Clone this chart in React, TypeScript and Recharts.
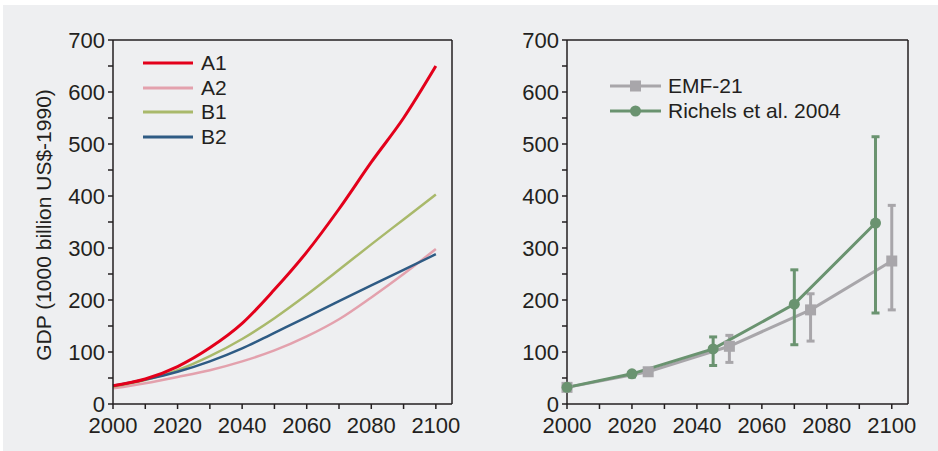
import React from 'react';
import { LineChart, Line, XAxis, YAxis, ReferenceLine, Legend, ErrorBar, Label } from 'recharts';

// SRES scenarios, left panel
const years = [2000, 2010, 2020, 2030, 2040, 2050, 2060, 2070, 2080, 2090, 2100];
const a1 = [35, 48, 72, 108, 155, 220, 292, 375, 465, 550, 650];
const a2 = [30, 40, 52, 65, 82, 103, 130, 163, 205, 250, 298];
const b1 = [33, 46, 65, 92, 125, 165, 210, 258, 307, 355, 403];
const b2 = [35, 47, 62, 82, 107, 137, 167, 198, 228, 258, 288];

// right panel
const emfYears = [2000, 2025, 2050, 2075, 2100];
const emfGdp = [32, 62, 111, 181, 275];
const emfLow = [32, 55, 80, 121, 181];
const emfHigh = [32, 68, 132, 212, 382];

const richelsYears = [2000, 2020, 2045, 2070, 2095];
const richelsGdp = [32, 58, 106, 192, 348];
const richelsLow = [32, 52, 74, 114, 175];
const richelsHigh = [32, 62, 129, 258, 514];

const xTicks = [2000, 2010, 2020, 2030, 2040, 2050, 2060, 2070, 2080, 2090, 2100];
const yTicks = [0, 50, 100, 150, 200, 250, 300, 350, 400, 450, 500, 550, 600, 650, 700];

const FONT = '"Liberation Sans", Arial, Helvetica, sans-serif';
const INK = '#231f20';
const GRAY = '#a8a6aa';
const GREEN = '#6a9370';

const leftData = years.map((y, i) => ({ year: y, A1: a1[i], A2: a2[i], B1: b1[i], B2: b2[i] }));
const emfData = emfYears.map((y, i) => ({ year: y, gdp: emfGdp[i], err: [emfGdp[i] - emfLow[i], emfHigh[i] - emfGdp[i]] }));
const richelsData = richelsYears.map((y, i) => ({ year: y, gdp: richelsGdp[i], err: [richelsGdp[i] - richelsLow[i], richelsHigh[i] - richelsGdp[i]] }));

const tickStyle = { fontSize: 22, fill: INK, fontFamily: FONT };

const SquareDot = (props: any) => {
    const { cx, cy } = props;
    if (cx == null || cy == null) return null;
    return <rect x={cx - 5.5} y={cy - 5.5} width={11} height={11} fill={GRAY} />;
};

const LeftLegend = (props: any) => (
    <div style={{ fontFamily: FONT, fontSize: 21, color: INK }}>
        {props.payload.map((p: any) => (
            <div key={p.value} style={{ display: 'flex', alignItems: 'center', height: 24.5 }}>
                <svg width={58} height={10}>
                    <line x1={0} y1={5} x2={50} y2={5} stroke={p.color} strokeWidth={3} />
                </svg>
                <span>{p.value}</span>
            </div>
        ))}
    </div>
);

const RightLegend = (props: any) => (
    <div style={{ fontFamily: FONT, fontSize: 21, color: INK }}>
        {props.payload.map((p: any) => (
            <div key={p.value} style={{ display: 'flex', alignItems: 'center', height: 24.5 }}>
                <svg width={58} height={14}>
                    <line x1={0} y1={7} x2={51} y2={7} stroke={p.color} strokeWidth={3} />
                    {p.color === GRAY
                        ? <rect x={20} y={1.5} width={11} height={11} fill={GRAY} />
                        : <circle cx={25.5} cy={7} r={5.5} fill={GREEN} />}
                </svg>
                <span>{p.value}</span>
            </div>
        ))}
    </div>
);

const axisProps = {
    stroke: INK,
    strokeWidth: 1.5,
    tick: tickStyle,
    tickSize: 5,
    interval: 0 as const,
};

const App: React.FC = () => {
    return (
        <div style={{ position: 'absolute', left: 3, top: 5, width: 935, height: 446, background: '#eeeff1' }}>
            <div style={{ position: 'absolute', left: 0, top: 0 }}>
                <LineChart width={470} height={446} data={leftData} margin={{ top: 35, right: 21, left: 50, bottom: 17 }}>
                    <XAxis
                        dataKey="year"
                        type="number"
                        domain={[2000, 2105]}
                        ticks={xTicks}
                        tickFormatter={(v: number) => (v % 20 === 0 ? String(v) : '')}
                        tickMargin={8}
                        height={30}
                        {...axisProps}
                    />
                    <YAxis
                        type="number"
                        domain={[0, 700]}
                        ticks={yTicks}
                        tickFormatter={(v: number) => (v % 100 === 0 ? String(v) : '')}
                        tickMargin={3}
                        width={60}
                        {...axisProps}
                    >
                        <Label
                            content={(p: any) => {
                                const vb = p.viewBox;
                                const cx = vb.x - 10;
                                const cy = vb.y + vb.height / 2 + 3;
                                return (
                                    <text x={cx} y={cy} transform={`rotate(-90 ${cx} ${cy})`} textAnchor="middle" dominantBaseline="central" fontSize={21} fill={INK} fontFamily={FONT}>
                                        GDP (1000 billion US$-1990)
                                    </text>
                                );
                            }}
                        />
                    </YAxis>
                    <ReferenceLine y={700} stroke={INK} strokeWidth={1.5} />
                    <ReferenceLine x={2105} stroke={INK} strokeWidth={1.5} />
                    <Legend content={<LeftLegend />} layout="vertical" verticalAlign="middle" align="center" wrapperStyle={{ left: 140, top: 46, width: 120 }} />
                    <Line type="monotone" dataKey="A2" stroke="#e3a1ad" strokeWidth={2.5} dot={false} isAnimationActive={false} />
                    <Line type="monotone" dataKey="B1" stroke="#a9b96b" strokeWidth={2.5} dot={false} isAnimationActive={false} />
                    <Line type="monotone" dataKey="B2" stroke="#2e5b84" strokeWidth={2.5} dot={false} isAnimationActive={false} />
                    <Line type="monotone" dataKey="A1" stroke="#e3001b" strokeWidth={3} dot={false} isAnimationActive={false} />
                </LineChart>
            </div>
            <div style={{ position: 'absolute', left: 467, top: 0 }}>
                <LineChart width={468} height={446} margin={{ top: 35, right: 30, left: 37, bottom: 17 }}>
                    <XAxis
                        dataKey="year"
                        type="number"
                        domain={[2000, 2105]}
                        ticks={xTicks}
                        tickFormatter={(v: number) => (v % 20 === 0 ? String(v) : '')}
                        tickMargin={8}
                        height={30}
                        allowDuplicatedCategory={false}
                        {...axisProps}
                    />
                    <YAxis
                        type="number"
                        domain={[0, 700]}
                        ticks={yTicks}
                        tickFormatter={(v: number) => (v % 100 === 0 ? String(v) : '')}
                        tickMargin={3}
                        width={60}
                        {...axisProps}
                    />
                    <ReferenceLine y={700} stroke={INK} strokeWidth={1.5} />
                    <ReferenceLine x={2105} stroke={INK} strokeWidth={1.5} />
                    <Legend content={<RightLegend />} layout="vertical" verticalAlign="middle" align="center" wrapperStyle={{ left: 140, top: 69, width: 300 }} />
                    <Line data={emfData} name="EMF-21" dataKey="gdp" stroke={GRAY} strokeWidth={3} dot={<SquareDot />} isAnimationActive={false}>
                        <ErrorBar dataKey="err" direction="y" stroke={GRAY} strokeWidth={3} width={4} />
                    </Line>
                    <Line data={richelsData} name="Richels et al. 2004" dataKey="gdp" stroke={GREEN} strokeWidth={3} dot={{ r: 5.5, fill: GREEN, stroke: GREEN, strokeWidth: 0 }} isAnimationActive={false}>
                        <ErrorBar dataKey="err" direction="y" stroke={GREEN} strokeWidth={3} width={4} />
                    </Line>
                </LineChart>
            </div>
        </div>
    );
};

export default App;
